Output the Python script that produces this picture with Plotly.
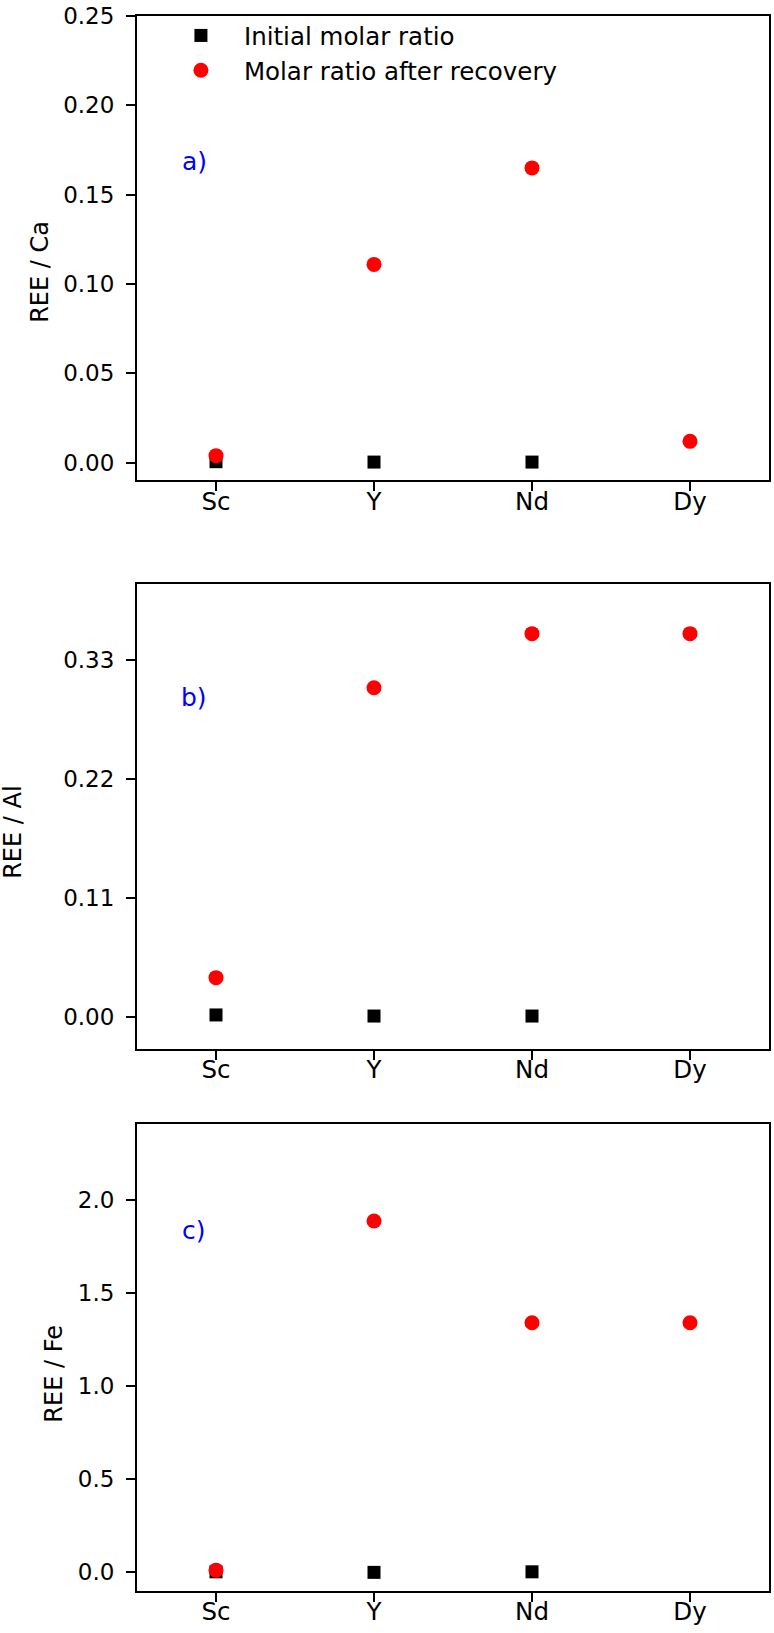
import plotly.graph_objects as go
from plotly.subplots import make_subplots

# data
elements = ["Sc", "Y", "Nd", "Dy"]

ca_initial = [0.0006, 0.0004, 0.0004, None]
ca_recovery = [0.004, 0.111, 0.165, 0.012]

al_initial = [0.0015, 0.0005, 0.0005, None]
al_recovery = [0.036, 0.304, 0.354, 0.354]

fe_initial = [0.003, 0.0, 0.003, None]
fe_recovery = [0.012, 1.886, 1.340, 1.340]

panel_labels = ["a)", "b)", "c)"]
y_titles = ["REE / Ca", "REE / Al", "REE / Fe"]

FONT = "DejaVu Sans, Arial, sans-serif"

W, H = 774, 1633
ML, MR, MT, MB = 137, 3, 13, 42
PW = W - ML - MR
PH = H - MT - MB


def px_x(page_x):
    return (page_x - ML) / PW


def px_y(page_y):
    return (H - MB - page_y) / PH


fig = make_subplots(rows=3, cols=1, vertical_spacing=0.05)

series = [(ca_initial, ca_recovery), (al_initial, al_recovery), (fe_initial, fe_recovery)]
for i, (init, rec) in enumerate(series):
    row = i + 1
    fig.add_trace(go.Scatter(
        x=elements, y=init, mode="markers", name="Initial molar ratio",
        marker=dict(symbol="square", size=13, color="black"),
        showlegend=(i == 0)), row=row, col=1)
    fig.add_trace(go.Scatter(
        x=elements, y=rec, mode="markers", name="Molar ratio after recovery",
        marker=dict(symbol="circle", size=15, color="#ff0000"),
        showlegend=(i == 0)), row=row, col=1)

# plot area top/bottom in page pixels
frames = [(13, 478), (582, 1048), (1123, 1591)]
yranges = [[-0.0097, 0.25], [-0.03, 0.40], [-0.1, 2.407]]
ytickvals = [[0, 0.05, 0.10, 0.15, 0.20, 0.25], [0, 0.11, 0.22, 0.33], [0, 0.5, 1.0, 1.5, 2.0]]
yticktext = [["0.00", "0.05", "0.10", "0.15", "0.20", "0.25"],
             ["0.00", "0.11", "0.22", "0.33"],
             ["0.0", "0.5", "1.0", "1.5", "2.0"]]
title_pos = [(39, 269), (13, 831), (54, 1373)]
label_pos = [(194.5, 159), (194.5, 696), (194.5, 1230)]

axis_common = dict(showline=True, linecolor="black", linewidth=2, mirror=True,
                   ticks="outside", ticklen=9, tickwidth=2, tickcolor="black",
                   showgrid=False, zeroline=False, ticklabeloverflow="allow")

for i in range(3):
    row = i + 1
    top, bot = frames[i]
    fig.update_xaxes(range=[-0.5, 3.5], row=row, col=1, ticklabelstandoff=-11,
                     tickfont=dict(family=FONT, size=24.5, color="black"), **axis_common)
    fig.update_yaxes(range=yranges[i], domain=[px_y(bot), px_y(top)],
                     tickvals=ytickvals[i], ticktext=yticktext[i], row=row, col=1,
                     ticklabelstandoff=7,
                     tickfont=dict(family=FONT, size=23, color="black"), **axis_common)
    tx, ty = title_pos[i]
    fig.add_annotation(x=px_x(tx), y=px_y(ty), xref="paper", yref="paper",
                       text=y_titles[i], textangle=-90, showarrow=False,
                       xanchor="center", yanchor="middle",
                       font=dict(family=FONT, size=24, color="black"))
    lx, ly = label_pos[i]
    fig.add_annotation(x=px_x(lx), y=px_y(ly), xref="paper", yref="paper",
                       text=panel_labels[i], showarrow=False,
                       xanchor="center", yanchor="middle",
                       font=dict(family=FONT, size=25, color="#0000ff"))

fig.update_layout(
    width=W, height=H,
    margin=dict(l=ML, r=MR, t=MT, b=MB),
    plot_bgcolor="white", paper_bgcolor="white",
    font=dict(family=FONT, color="black"),
    legend=dict(x=px_x(158), y=px_y(10), xanchor="left", yanchor="top",
                bgcolor="rgba(0,0,0,0)", itemwidth=76,
                font=dict(family=FONT, size=24.5, color="black")),
)

# the page body has a default 8px margin; drop it so the figure fills the window
fig.write_html("out.html", config={"displayModeBar": False},
               post_script="document.body.style.margin='0px';")
